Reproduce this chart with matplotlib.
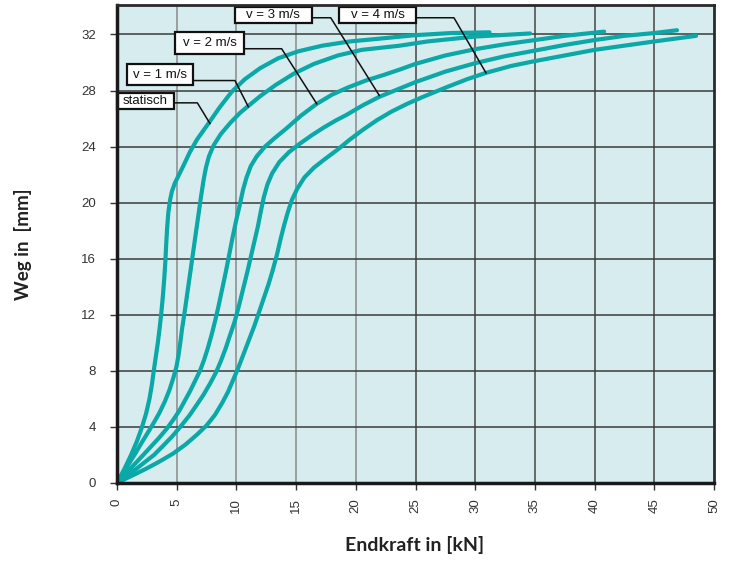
import matplotlib.pyplot as plt
from matplotlib.patches import Rectangle
import numpy as np

# Weg-Kraft-Kennlinien (Endkraft in kN, Weg in mm)
statisch_x = [0, 0.62, 1.18, 1.68, 2.1, 2.45, 2.72, 2.92, 3.08, 3.25, 3.42, 3.58, 3.72, 3.85,
              3.96, 4.05, 4.12, 4.2, 4.3, 4.45, 4.6, 4.85, 5.2, 5.6, 6.1, 6.7, 7.7, 8.6, 9.6, 10.7,
              12.0, 13.5, 15.2, 17.2, 19.5, 22.0, 25.0, 28.0, 31.2]
statisch_y = [0, 1.0, 2.0, 3.0, 4.0, 5.0, 6.0, 7.0, 8.0, 9.0, 10.0, 11.1, 12.2, 13.4,
              14.6, 15.8, 17.0, 18.2, 19.3, 20.2, 20.8, 21.4, 22.0, 22.7, 23.6, 24.5, 25.7, 26.8, 27.9, 28.8,
              29.6, 30.3, 30.8, 31.2, 31.5, 31.7, 31.95, 32.1, 32.15]

v1_x = [0, 0.4, 0.8, 1.2, 1.6, 2.05, 2.55, 3.05, 3.55, 4.0, 4.4, 4.72, 4.98, 5.15, 5.3, 5.45, 5.65,
        5.85, 6.05, 6.25, 6.45, 6.65, 6.85, 7.05, 7.25, 7.45, 7.7, 8.1, 8.7, 9.5, 10.3, 11.0, 12.0,
        13.3, 14.8, 16.5, 18.5, 20.5, 23.7, 26.0, 30.0, 34.6]
v1_y = [0, 0.55, 1.1, 1.65, 2.2, 2.85, 3.55, 4.25, 5.0, 5.8, 6.65, 7.5, 8.3, 9.1, 10.0, 11.0, 12.1,
        13.3, 14.5, 15.7, 16.9, 18.1, 19.3, 20.5, 21.6, 22.5, 23.3, 24.1, 24.9, 25.7, 26.4, 26.9, 27.6,
        28.4, 29.2, 29.9, 30.5, 30.9, 31.2, 31.5, 31.85, 32.07]

v2_x = [0, 0.55, 1.1, 1.65, 2.2, 2.85, 3.5, 4.15, 4.75, 5.25, 5.7, 6.15, 6.55, 6.95, 7.3, 7.6,
        7.9, 8.2, 8.5, 8.8, 9.1, 9.4, 9.7, 10.0, 10.3, 10.55, 10.85, 11.2, 11.7, 12.4, 13.2, 14.2,
        15.4, 16.73, 18.0, 19.3, 20.8, 22.3, 23.7, 25.0, 27.5, 30.0, 32.5, 35.0, 37.5, 40.8]
v2_y = [0, 0.5, 1.0, 1.5, 2.0, 2.6, 3.2, 3.85, 4.55, 5.2, 5.9, 6.6, 7.3, 8.0, 8.8, 9.6,
        10.5, 11.5, 12.6, 13.8, 15.0, 16.3, 17.6, 18.8, 19.9, 20.9, 21.8, 22.6, 23.3, 24.0, 24.6, 25.3,
        26.2, 27.05, 27.7, 28.2, 28.7, 29.1, 29.5, 29.9, 30.5, 30.95, 31.3, 31.6, 31.9, 32.2]

v3_x = [0, 0.8, 1.6, 2.35, 3.1, 3.8, 4.6, 5.3, 6.05, 6.7, 7.25, 7.8, 8.3, 8.7, 9.1, 9.45, 9.85,
        10.2, 10.55, 10.9, 11.2, 11.5, 11.8, 12.05, 12.3, 12.6, 13.0, 13.6, 14.4, 15.3, 16.3, 17.3,
        18.3, 19.2, 20.6, 21.97, 23.7, 25.0, 27.5, 30.0, 32.5, 35.0, 37.5, 40.0, 42.5, 45.0, 46.9]
v3_y = [0, 0.5, 1.0, 1.5, 2.0, 2.6, 3.3, 4.0, 4.8, 5.6, 6.3, 7.1, 7.9, 8.7, 9.6, 10.5, 11.5,
        12.6, 13.8, 15.0, 16.1, 17.2, 18.3, 19.4, 20.4, 21.3, 22.1, 22.9, 23.6, 24.2, 24.8, 25.35,
        25.85, 26.25, 26.95, 27.55, 28.15, 28.6, 29.35, 29.95, 30.45, 30.85, 31.25, 31.6, 31.9, 32.1, 32.3]

v4_x = [0, 1.2, 2.4, 3.6, 4.7, 5.75, 6.7, 7.5, 8.2, 8.8, 9.3, 9.75, 10.15, 10.6, 11.05, 11.5, 11.9,
        12.3, 12.7, 13.05, 13.4, 13.7, 14.0, 14.3, 14.65, 15.1, 15.7, 16.5, 17.4, 18.5, 19.5, 20.6,
        21.8, 23.0, 24.3, 25.5, 27.5, 29.3, 30.9, 33.0, 35.0, 37.5, 40.0, 42.5, 45.0, 48.5]
v4_y = [0, 0.5, 1.0, 1.55, 2.1, 2.75, 3.45, 4.1, 4.85, 5.7, 6.5, 7.4, 8.2, 9.2, 10.2, 11.2, 12.2,
        13.2, 14.2, 15.2, 16.3, 17.4, 18.4, 19.3, 20.2, 21.0, 21.8, 22.5, 23.1, 23.8, 24.5, 25.2,
        25.9, 26.5, 27.05, 27.5, 28.2, 28.8, 29.26, 29.75, 30.1, 30.5, 30.9, 31.2, 31.5, 31.9]

kurven = [(statisch_x, statisch_y), (v1_x, v1_y), (v2_x, v2_y), (v3_x, v3_y), (v4_x, v4_y)]
labels = ['statisch', 'v = 1 m/s', 'v = 2 m/s', 'v = 3 m/s', 'v = 4 m/s']

x_ticks = np.arange(0, 51, 5)
y_ticks = np.arange(0, 33, 4)

# Beschriftungskästen (x0, x1, y0, y1), Knick der Hinweislinie, Endpunkt auf der Kurve
boxen = [(-0.03, 4.8, 26.69, 27.84), (0.81, 6.39, 28.36, 29.86), (4.86, 10.66, 30.57, 32.19),
         (9.88, 16.31, 32.79, 33.95), (18.62, 25.04, 32.79, 33.95)]
knick = [(6.73, 27.12), (9.88, 28.71), (13.79, 30.98), (17.9, 33.19), (28.22, 33.19)]
ziel = [(7.79, 25.64), (11.0, 26.84), (16.73, 27.05), (21.97, 27.64), (30.9, 29.26)]

teal = '#0aa9a7'

fig = plt.figure(figsize=(7.33, 5.62), dpi=100)
ax = fig.add_axes([0.1596, 0.1406, 0.8145, 0.8505])
ax.set_facecolor('#d6ecee')

for xv in x_ticks[1:-1]:
    ax.axvline(xv, color='#8a8a8a' if xv <= 20 else '#444444', lw=1.1, zorder=1)
for yv in y_ticks[1:]:
    ax.axhline(yv, color='#3a3a3a', lw=1.1, zorder=1)

for kx, ky in kurven:
    ax.plot(kx, ky, color=teal, lw=3.0, solid_joinstyle='round', solid_capstyle='round', zorder=3)

for i, txt in enumerate(labels):
    x0, x1, y0, y1 = boxen[i]
    ky = knick[i][1]
    ax.plot([x1, knick[i][0], ziel[i][0]], [ky, ky, ziel[i][1]],
            color='#111111', lw=1.1, zorder=4)
    ax.add_patch(Rectangle((x0, y0), x1 - x0, y1 - y0, fc='white', ec='#111111', lw=1.6,
                           zorder=5, clip_on=False))
    ax.text((x0 + x1) / 2, (y0 + y1) / 2, txt, ha='center', va='center',
            fontsize=9.5, family='Liberation Sans', color='#111111', zorder=6)

ax.set_xlim(0, 50)
ax.set_ylim(0, 34.1)
ax.set_xticks(x_ticks)
ax.set_yticks(y_ticks)
ax.tick_params(direction='out', length=5, width=1, color='#333333', labelcolor='#333333',
               labelsize=9.5)
plt.setp(ax.get_xticklabels(), rotation=90, family='Liberation Sans')
plt.setp(ax.get_yticklabels(), family='Liberation Sans')
ax.tick_params(axis='x', pad=6)
ax.tick_params(axis='y', pad=10)

for side in ['left', 'bottom']:
    ax.spines[side].set_linewidth(2.5)
    ax.spines[side].set_color('#1a1a1a')
for side in ['top', 'right']:
    ax.spines[side].set_linewidth(2.0)
    ax.spines[side].set_color('#2a2a2a')
for s in ax.spines.values():
    s.set_zorder(7)

fig.text(0.566, 0.03, 'Endkraft in [kN]', ha='center', va='center', fontsize=14,
         fontweight='bold', family='Lato', color='#222222')
fig.text(0.031, 0.565, 'Weg in  [mm]', ha='center', va='center', rotation=90, fontsize=13.5,
         fontweight='bold', family='Lato', color='#222222')

fig.savefig('out.png', dpi=100)
